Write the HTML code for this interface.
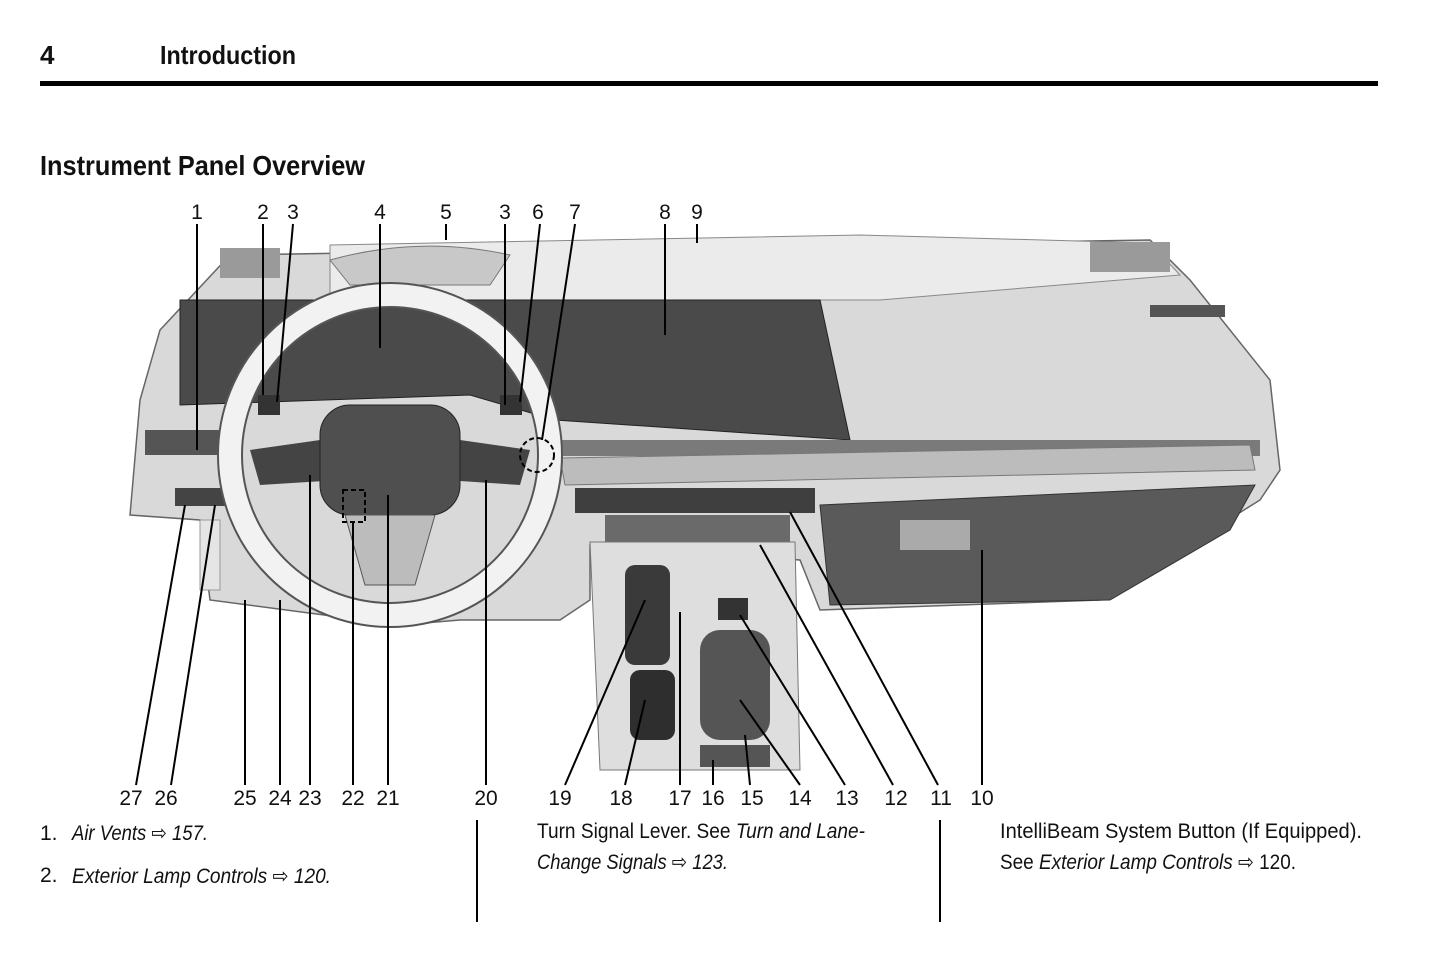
<!DOCTYPE html>
<html><head><meta charset="utf-8"><style>
html,body{margin:0;padding:0;background:#fff;}
svg{display:block;}
text{font-family:"Liberation Sans",sans-serif;fill:#111;}
</style></head><body>
<svg width="1445" height="957" viewBox="0 0 1445 957" xmlns="http://www.w3.org/2000/svg">
<text x="40" y="64" font-size="26" font-weight="bold">4</text>
<text x="160" y="64" font-size="26" font-weight="bold" textLength="136" lengthAdjust="spacingAndGlyphs">Introduction</text>
<rect x="40" y="81" width="1338" height="5" fill="#000"/>
<text x="40" y="175" font-size="28" font-weight="bold" textLength="325" lengthAdjust="spacingAndGlyphs">Instrument Panel Overview</text>

<path d="M230 255 L1150 240 L1190 280 L1270 380 L1280 470 L1260 500 L1100 600 L820 610 L800 560 L590 545 L590 600 L560 620 L460 620 L400 625 L210 600 L200 520 L130 515 L140 400 L160 330 Z" fill="#d9d9d9" stroke="#666" stroke-width="1.5"/>
<path d="M330 245 L860 235 L1150 243 L1180 275 L880 300 L330 300 Z" fill="#ebebeb" stroke="#888"/>
<rect x="220" y="248" width="60" height="30" fill="#9a9a9a"/>
<rect x="1090" y="242" width="80" height="30" fill="#9a9a9a"/>
<path d="M330 260 Q420 235 510 255 L490 285 L350 285 Z" fill="#c8c8c8" stroke="#777"/>
<path d="M180 300 L820 300 L850 440 L555 420 L470 395 L180 405 Z" fill="#4a4a4a" stroke="#222"/>
<rect x="145" y="430" width="75" height="25" fill="#555"/>
<rect x="560" y="440" width="700" height="16" fill="#7a7a7a"/>
<path d="M560 458 L1250 445 L1255 470 L565 485 Z" fill="#bcbcbc" stroke="#777"/>
<rect x="1150" y="305" width="75" height="12" fill="#555"/>
<path d="M820 505 L1255 485 L1230 530 L1110 600 L830 605 Z" fill="#5a5a5a" stroke="#333"/>
<rect x="900" y="520" width="70" height="30" fill="#aaa"/>
<rect x="575" y="488" width="240" height="25" fill="#3f3f3f"/>
<rect x="605" y="515" width="185" height="30" fill="#6a6a6a"/>
<path d="M590 542 L795 542 L800 770 L600 770 Z" fill="#dedede" stroke="#777"/>
<rect x="625" y="565" width="45" height="100" rx="10" fill="#3a3a3a"/>
<rect x="630" y="670" width="45" height="70" rx="10" fill="#2e2e2e"/>
<rect x="700" y="630" width="70" height="110" rx="20" fill="#555"/>
<rect x="718" y="598" width="30" height="22" fill="#333"/>
<rect x="700" y="745" width="70" height="22" fill="#555"/>
<rect x="175" y="488" width="50" height="18" fill="#444"/>
<rect x="200" y="520" width="20" height="70" fill="#e5e5e5" stroke="#999"/>
<circle cx="390" cy="455" r="160" fill="none" stroke="#f2f2f2" stroke-width="24"/>
<circle cx="390" cy="455" r="172" fill="none" stroke="#555" stroke-width="2"/>
<circle cx="390" cy="455" r="148" fill="none" stroke="#555" stroke-width="2"/>
<path d="M250 450 L320 440 L340 480 L260 485 Z" fill="#444"/>
<path d="M460 440 L530 450 L520 485 L445 480 Z" fill="#444"/>
<rect x="320" y="405" width="140" height="110" rx="30" fill="#4f4f4f" stroke="#222"/>
<path d="M345 515 L435 515 L415 585 L365 585 Z" fill="#bcbcbc" stroke="#555"/>
<rect x="258" y="395" width="22" height="20" fill="#333"/>
<rect x="500" y="395" width="22" height="20" fill="#333"/>

<g stroke="#000" stroke-width="2" fill="none">
<line x1="197" y1="224" x2="197" y2="450"/>
<line x1="263" y1="224" x2="263" y2="395"/>
<line x1="293" y1="224" x2="277" y2="402"/>
<line x1="380" y1="224" x2="380" y2="348"/>
<line x1="446" y1="224" x2="446" y2="240"/>
<line x1="505" y1="224" x2="505" y2="405"/>
<line x1="540" y1="224" x2="520" y2="402"/>
<line x1="575" y1="224" x2="542" y2="440"/>
<line x1="665" y1="224" x2="665" y2="335"/>
<line x1="697" y1="224" x2="697" y2="243"/>
<line x1="136" y1="785" x2="185" y2="505"/>
<line x1="171" y1="785" x2="215" y2="505"/>
<line x1="245" y1="785" x2="245" y2="600"/>
<line x1="280" y1="785" x2="280" y2="600"/>
<line x1="310" y1="785" x2="310" y2="475"/>
<line x1="353" y1="785" x2="353" y2="522"/>
<line x1="388" y1="785" x2="388" y2="495"/>
<line x1="486" y1="785" x2="486" y2="480"/>
<line x1="565" y1="785" x2="645" y2="600"/>
<line x1="625" y1="785" x2="645" y2="700"/>
<line x1="680" y1="785" x2="680" y2="612"/>
<line x1="713" y1="785" x2="713" y2="760"/>
<line x1="750" y1="785" x2="745" y2="735"/>
<line x1="800" y1="785" x2="740" y2="700"/>
<line x1="845" y1="785" x2="740" y2="615"/>
<line x1="893" y1="785" x2="760" y2="545"/>
<line x1="938" y1="785" x2="790" y2="512"/>
<line x1="982" y1="785" x2="982" y2="550"/>
<line x1="477" y1="820" x2="477" y2="922"/>
<line x1="940" y1="820" x2="940" y2="922"/>
</g>
<circle cx="537" cy="455" r="17" fill="none" stroke="#000" stroke-width="2" stroke-dasharray="5,3"/>
<rect x="343" y="490" width="22" height="32" fill="none" stroke="#000" stroke-width="2" stroke-dasharray="5,3"/>

<g font-size="21" text-anchor="middle">
<text x="197" y="219">1</text><text x="263" y="219">2</text><text x="293" y="219">3</text>
<text x="380" y="219">4</text><text x="446" y="219">5</text><text x="505" y="219">3</text>
<text x="538" y="219">6</text><text x="575" y="219">7</text><text x="665" y="219">8</text><text x="697" y="219">9</text>
</g>
<g font-size="21" text-anchor="middle">
<text x="131" y="805">27</text><text x="166" y="805">26</text><text x="245" y="805">25</text>
<text x="280" y="805">24</text><text x="310" y="805">23</text><text x="353" y="805">22</text>
<text x="388" y="805">21</text><text x="486" y="805">20</text><text x="560" y="805">19</text>
<text x="621" y="805">18</text><text x="680" y="805">17</text><text x="713" y="805">16</text>
<text x="752" y="805">15</text><text x="800" y="805">14</text><text x="847" y="805">13</text>
<text x="896" y="805">12</text><text x="941" y="805">11</text><text x="982" y="805">10</text>
</g>

<g font-size="21">
<text x="40" y="840">1.</text>
<text x="72" y="840" font-style="italic" textLength="136" lengthAdjust="spacingAndGlyphs">Air Vents <tspan font-style="normal">⇨</tspan> 157.</text>
<text x="40" y="882">2.</text>
<text x="72" y="883" font-style="italic" textLength="259" lengthAdjust="spacingAndGlyphs">Exterior Lamp Controls <tspan font-style="normal">⇨</tspan> 120.</text>
<text x="537" y="838" textLength="328" lengthAdjust="spacingAndGlyphs">Turn Signal Lever. See <tspan font-style="italic">Turn and Lane-</tspan></text>
<text x="537" y="869" font-style="italic" textLength="191" lengthAdjust="spacingAndGlyphs">Change Signals <tspan font-style="normal">⇨</tspan> 123.</text>
<text x="1000" y="838" textLength="362" lengthAdjust="spacingAndGlyphs">IntelliBeam System Button (If Equipped).</text>
<text x="1000" y="869" textLength="296" lengthAdjust="spacingAndGlyphs">See <tspan font-style="italic">Exterior Lamp Controls</tspan> ⇨ 120.</text>
</g>
</svg>
</body></html>
